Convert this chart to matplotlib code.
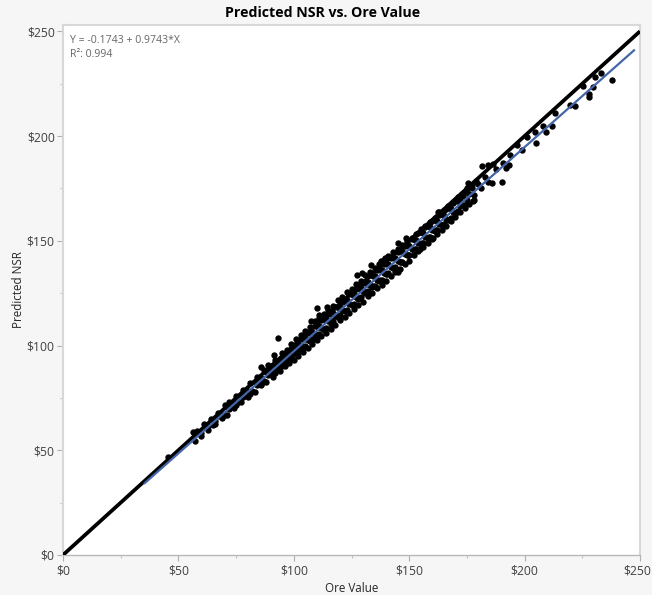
import matplotlib
matplotlib.use("Agg")
import matplotlib.pyplot as plt
from matplotlib.ticker import FixedLocator
from matplotlib.transforms import ScaledTranslation

plt.rcParams['font.family'] = ['Open Sans', 'DejaVu Sans']

#Upper edge of the dense band
upper_x = [58, 61, 64, 67, 70, 72, 75, 78, 81, 84, 87, 89, 92, 95, 97, 99, 101, 103, 105, 107,
           109, 111, 113, 115, 117, 119, 121, 123, 125, 127, 129, 131, 133, 135, 137, 139, 141,
           143, 145, 147, 149, 151, 153, 155, 157, 159, 161, 163, 165, 167, 169, 171, 173, 175,
           177, 179]
upper_y = [59, 62.5, 65, 68, 71.5, 73, 76, 79, 82, 85, 88.5, 90.5, 93, 96.5, 98, 100.5, 103, 105, 107, 109,
           111.5, 113, 115, 117, 119, 121.5, 123, 125.5, 127, 129.5, 131, 133.5, 135, 137, 139, 141, 142.5,
           144.5, 146, 148, 150, 151.5, 153, 155.5, 157, 159, 161, 163.5, 164.5, 166.5, 168.5, 171, 172.5, 175,
           176.5, 178.5]

#Lower edge of the dense band
lower_x = [57, 60, 63, 66, 69, 71, 74, 77, 80, 83, 86, 88, 91, 94, 96, 98, 100, 102, 104, 106,
           108, 110, 112, 114, 116, 118, 120, 122, 124, 126, 128, 130, 132, 134, 136, 138, 140,
           142, 144, 146, 148, 150, 152, 154, 156, 158, 160, 162, 164, 166, 168, 170, 172, 174,
           176, 178]
lower_y = [54.5, 57, 59.5, 62.5, 65.5, 67, 70, 73, 75.5, 78, 81, 82.5, 85, 88, 90, 91.5, 93, 95, 97, 99,
           100.5, 102.5, 104.5, 106, 108, 110, 112, 113.5, 115.5, 117.5, 119.5, 121, 123.5, 125, 127.5, 129, 131,
           133, 135, 136.5, 139, 140.5, 143, 145, 147, 149, 151, 153, 155, 157, 159.5, 161.5, 163.5, 165.5,
           167.5, 169.5]

#Inside of the band
mid_x = [62, 68, 73, 79, 85, 90, 93, 96, 99, 102, 105, 108, 111, 114, 117, 120, 123, 126, 129, 132, 135,
         138, 141, 144, 147, 150, 153, 156, 159, 162, 165, 168, 172, 176,
         92, 95, 98, 101, 104, 107, 110, 113, 116, 119, 122, 125, 128, 131, 134, 137, 140, 143, 146, 149,
         152, 155, 158, 161, 164, 167, 170, 174]
mid_y = [61, 66.5, 71, 77, 83, 88.5, 91.5, 94.5, 97.5, 100.5, 103.5, 106.5, 109.5, 112.5, 115.5, 118.5, 121.5, 124.5, 127.5, 130.5, 133,
         136, 139, 142, 145, 147.5, 150.5, 153.5, 156.5, 159.5, 162, 165, 169, 172.5,
         87, 90, 93, 96, 99, 102, 104.5, 107.5, 110.5, 113.5, 116.5, 119.5, 122, 125, 128, 131, 134, 137, 140, 143,
         145.5, 148.5, 151.5, 154.5, 157.5, 160, 163, 167]

#More points packed between the rows above
fill_a_x = [66, 71, 77, 83, 88, 91, 94, 97, 100, 103, 106, 109, 112, 115, 118, 121, 124, 127, 130, 133, 136,
            139, 142, 145, 148, 151, 154, 157, 160, 163, 166, 169, 172, 175]
fill_a_y = [65.5, 70.5, 76.5, 82.5, 87.5, 90.5, 93.5, 97, 100, 103, 106, 109.5, 112, 115, 118.5, 121, 124.5, 127, 130, 133.5, 136,
            139, 142, 144.5, 147.5, 151, 153.5, 156.5, 159.5, 162.5, 165, 168, 171, 173.5]
fill_b_x = [60, 66, 72, 78, 84, 89, 92, 94, 97, 100, 103, 106, 109, 112, 115, 118, 121, 124, 127, 130, 133,
            136, 139, 142, 145, 148, 151, 154, 157, 160, 163, 166, 169, 172, 175]
fill_b_y = [58, 64, 69.5, 75.5, 81, 86, 89, 91, 94, 97, 100, 102.5, 105.5, 108.5, 111.5, 114, 117, 120, 123, 126, 129,
            131.5, 134.5, 137.5, 140.5, 143.5, 146, 149, 152, 155, 158, 160.5, 163.5, 166.5, 169.5]
fill_c_x = [75, 81, 87, 93, 96, 99, 102, 105, 108, 111, 114, 117, 120, 123, 126, 129, 132, 135, 138, 141,
            144, 147, 150, 153, 156, 159, 162, 165, 168, 171]
fill_c_y = [71.5, 77, 83, 89, 92, 94.5, 97.5, 100, 103, 105.5, 108.5, 111.5, 114.5, 117, 120, 123, 126, 128.5, 131.5, 134.5,
            137.5, 140, 143, 146, 149, 152, 155, 158, 161, 164]
fill_d_x = [63, 69, 74, 80, 86, 90.5, 94.5, 98.5, 101.5, 104.5, 107.5, 110.5, 113.5, 116.5, 119.5, 122.5, 125.5, 128.5,
            131.5, 134.5, 137.5, 140.5, 143.5, 146.5, 149.5, 152.5, 155.5, 158.5, 161.5, 164.5, 167.5, 170.5, 173.5,
            177, 180, 183]
fill_d_y = [61.5, 67.5, 72.5, 78.5, 84.5, 89, 93, 97, 99.5, 103, 106, 109, 112, 114.5, 118, 121, 124, 127,
            129.5, 133, 136, 139, 142, 145, 148, 150.5, 154, 157, 160, 163, 166, 169, 171.5,
            175, 177, 180.5]
fill_e_x = [65, 70, 76, 82, 86.5, 91, 95.5, 98.5, 101.5, 104.5, 107.5, 110.5, 113.5, 116.5, 119.5, 122.5, 125.5, 128.5,
            131.5, 134.5, 137.5, 140.5, 143.5, 146.5, 149.5, 152.5, 155.5, 158.5, 161.5, 164.5, 167.5, 170.5, 173.5,
            178, 181, 184]
fill_e_y = [62, 67, 73, 78.5, 82.5, 87, 91, 93.5, 96.5, 99.5, 102, 105, 108, 111, 114, 116.5, 119.5, 122.5,
            125.5, 128.5, 131.5, 134, 137, 140, 143, 146, 149, 152, 155, 157.5, 160.5, 163.5, 167,
            172, 175, 178]

#Points off the band, read one at a time
outlier_x = [45.5, 56.5, 85.7, 91.3, 93.2, 107.3, 110, 111, 114.3, 127.5, 129.4, 133.4, 137.8, 139.5,
             145.3, 145.3, 148.5, 154.7, 160.4, 162.6, 175.6, 177.8, 181.7, 184.3, 186, 186.2, 187.6,
             190.2, 190.8, 191.8, 193.4, 193.7, 196.8, 198.7, 200.9, 204.5, 204.9, 208.1, 209.3, 212,
             213, 219.7, 221.7, 225.4, 227.9, 227.9, 229.5, 230.5, 233.2, 238]
outlier_y = [47, 58.6, 89.9, 95.5, 103.7, 111.7, 117.8, 114.6, 118.2, 133.7, 134.5, 138.6, 140.5, 141.6,
             149.1, 135.2, 151.5, 146.1, 151.2, 163.9, 177.4, 168.8, 185.8, 186.2, 177.4, 186.6, 184.4,
             177.9, 187, 184.6, 186.2, 190.9, 195.7, 193.3, 199.7, 201.9, 196.5, 204.9, 201.9, 204.8,
             211.1, 214.8, 214.3, 223.9, 220.1, 218.5, 223.2, 228.3, 230, 226.9]

fit_x = [35.4, 247.4]
fit_y = [34.3, 240.9]
ref_x = [0, 250]
ref_y = [0, 250]

tick_values = [0, 50, 100, 150, 200, 250]
tick_labels = ["$0", "$50", "$100", "$150", "$200", "$250"]
minor_values = [25, 75, 125, 175, 225]

fig = plt.figure(figsize=(6.52, 5.95), dpi=100, facecolor="#f6f6f6")
ax = fig.add_axes([63 / 652, 1 - 555 / 595, 577 / 652, 530 / 595])

all_x = upper_x + lower_x + mid_x + fill_a_x + fill_b_x + fill_c_x + fill_d_x + fill_e_x + outlier_x
all_y = upper_y + lower_y + mid_y + fill_a_y + fill_b_y + fill_c_y + fill_d_y + fill_e_y + outlier_y
ax.scatter(all_x, all_y, s=21, c="black", linewidths=0, zorder=3, clip_on=False)
ax.plot(ref_x, ref_y, c="black", lw=2.7, zorder=4, solid_capstyle="butt")
ax.plot(fit_x, fit_y, c="#4466a8", lw=1.6, zorder=5)

ax.set_xlim(0, 250)
ax.set_ylim(0, 253)
ax.set_xticks(tick_values)
ax.set_xticklabels(tick_labels)
ax.set_yticks(tick_values)
ax.set_yticklabels(tick_labels)
ax.xaxis.set_minor_locator(FixedLocator(minor_values))
ax.yaxis.set_minor_locator(FixedLocator(minor_values))
ax.tick_params(which="major", length=4, width=0.8, color="#b0b0b0", labelsize=8.7,
               labelcolor="#404040", pad=2)
ax.tick_params(axis="x", which="major", pad=3)
ax.tick_params(which="minor", length=2, width=0.8, color="#c0c0c0")

#last x label sits a little left of its tick, as in the reference
last_label = ax.get_xticklabels()[-1]
last_label.set_transform(last_label.get_transform() + ScaledTranslation(-2 / 72, 0, fig.dpi_scale_trans))

for side in ["left", "right", "top"]:
    ax.spines[side].set_color("#d8d8d8")
    ax.spines[side].set_linewidth(1.5)
ax.spines["bottom"].set_color("#b8b8b8")
ax.spines["bottom"].set_linewidth(1)

ax.set_xlabel("Ore Value", fontsize=8.4, color="#262626")
ax.set_ylabel("Predicted NSR", fontsize=8.4, color="#262626")
ax.xaxis.set_label_coords(0.5, -0.05)
ax.yaxis.set_label_coords(-0.066, 0.5)
fig.text(323 / 652, 1 - 13 / 595, "Predicted NSR vs. Ore Value", fontsize=10.2, fontweight="bold",
         color="black", ha="center", va="center")

ax.text(0.012, 0.982, "Y = -0.1743 + 0.9743*X", transform=ax.transAxes, fontsize=7.6,
        color="#666666", va="top")
ax.text(0.012, 0.954, "R²: 0.994", transform=ax.transAxes, fontsize=7.6,
        color="#666666", va="top")

fig.savefig("out.png", dpi=100, facecolor=fig.get_facecolor())
